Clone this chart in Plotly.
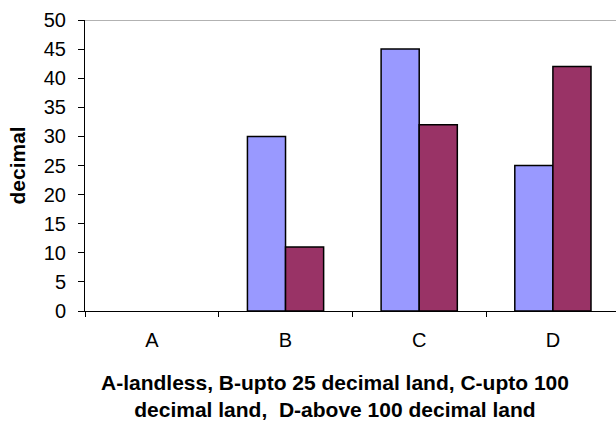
import plotly.graph_objects as go

categories = ["A", "B", "C", "D"]
series_1 = [0, 30, 45, 25]
series_2 = [0, 11, 32, 42]
y_ticks = [0, 5, 10, 15, 20, 25, 30, 35, 40, 45, 50]

font_family = "Liberation Sans, Arial, sans-serif"


def outline_widths(values):
    # zero-height bars get no outline so nothing sits on the axis
    return [1.5 if v else 0 for v in values]


fig = go.Figure()
fig.add_trace(go.Bar(x=categories, y=series_1, name="Series 1",
                     marker=dict(color="#9999FF",
                                 line=dict(color="black", width=outline_widths(series_1)))))
fig.add_trace(go.Bar(x=categories, y=series_2, name="Series 2",
                     marker=dict(color="#993366",
                                 line=dict(color="black", width=outline_widths(series_2)))))

fig.update_layout(
    width=616, height=425,
    margin=dict(l=85, r=0, t=20, b=114),
    paper_bgcolor="white", plot_bgcolor="white",
    barmode="group", bargap=0.43, bargroupgap=0,
    showlegend=False,
    font=dict(family=font_family, color="black", size=18),
)

fig.update_xaxes(
    type="category", range=[-0.5, 3.472],
    showline=True, linecolor="black", linewidth=1,
    ticks="outside", tickson="boundaries", ticklen=5, tickcolor="black",
    ticklabelstandoff=11,
    tickfont=dict(size=20),
    showgrid=False, zeroline=False,
)
fig.update_yaxes(
    range=[0, 50], tickvals=y_ticks,
    showline=True, linecolor="black", linewidth=1,
    ticks="outside", ticklen=6, tickcolor="black",
    ticklabelstandoff=8,
    tickfont=dict(size=20),
    showgrid=False, zeroline=False,
)

# thin grey frame line along the top of the plot area
fig.add_shape(type="line", xref="paper", yref="y", x0=0, x1=1, y0=50, y1=50,
              line=dict(color="#999999", width=1.5))

fig.add_annotation(
    text="<b>decimal</b>", textangle=-90, xref="paper", yref="paper",
    x=-0.128, y=0.5, xanchor="center", yanchor="middle", showarrow=False,
    font=dict(size=21),
)
fig.add_annotation(
    text="<b>A-landless, B-upto 25 decimal land, C-upto 100<br>decimal land,  D-above 100 decimal land</b>",
    xref="paper", yref="paper", x=0.47, y=-0.2, xanchor="center", yanchor="top",
    showarrow=False, font=dict(size=21), align="center",
)

fig.write_html("out.html")
